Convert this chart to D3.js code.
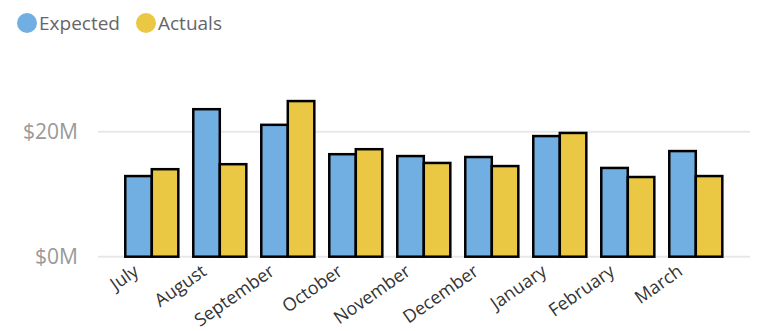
<!DOCTYPE html>
<html>
<head>
<meta charset="utf-8">
<script src="https://cdn.jsdelivr.net/npm/d3@7"></script>
<style>
  body { margin: 0; background: #fff; }
  text { font-family: "Open Sans", "Noto Sans", sans-serif; }
</style>
</head>
<body>
<div id="chart"></div>
<script>
const months = ['July', 'August', 'September', 'October', 'November', 'December', 'January', 'February', 'March'];
const expected = [12.9, 23.6, 21.1, 16.4, 16.1, 15.95, 19.3, 14.2, 16.9];
const actuals = [14.0, 14.8, 24.9, 17.2, 15.0, 14.5, 19.8, 12.75, 12.9];
const yTicks = [0, 20];
const seriesNames = ['Expected', 'Actuals'];
const colors = ['#71aee2', '#ebc844'];

const width = 757, height = 331;

const svg = d3.select('#chart')
  .append('svg')
  .attr('width', width)
  .attr('height', height);

// Scales
const x = d3.scaleBand()
  .domain(months)
  .range([117.8, 729.8])
  .paddingInner(0.22)
  .paddingOuter(0.11);

const xSub = d3.scaleBand()
  .domain(seriesNames)
  .range([0, x.bandwidth()]);

const y = d3.scaleLinear()
  .domain([0, 20])
  .range([256.7, 131.7]);

// Gridlines
svg.append('g')
  .selectAll('line')
  .data(yTicks)
  .join('line')
    .attr('x1', 98)
    .attr('x2', 750)
    .attr('y1', d => y(d))
    .attr('y2', d => y(d))
    .attr('stroke', '#e8e8e8')
    .attr('stroke-width', 2);

// Y axis labels
const yAxis = d3.axisLeft(y)
  .tickValues(yTicks)
  .tickFormat(d => `$${d}M`)
  .tickSize(0)
  .tickPadding(0);

svg.append('g')
  .attr('transform', 'translate(78,0)')
  .call(yAxis)
  .call(g => g.select('.domain').remove())
  .call(g => g.selectAll('text')
    .attr('fill', '#999')
    .attr('font-size', 21)
    .attr('font-family', '"Open Sans", sans-serif'));

// Bars
const data = months.map((m, i) => ({ month: m, values: [expected[i], actuals[i]] }));

const groups = svg.append('g')
  .selectAll('g')
  .data(data)
  .join('g')
    .attr('transform', d => `translate(${x(d.month)},0)`);

groups.selectAll('rect')
  .data(d => d.values.map((v, j) => ({ key: seriesNames[j], value: v, color: colors[j] })))
  .join('rect')
    .attr('x', d => xSub(d.key))
    .attr('width', xSub.bandwidth())
    .attr('y', d => y(d.value))
    .attr('height', d => y(0) - y(d.value))
    .attr('fill', d => d.color)
    .attr('stroke', '#000')
    .attr('stroke-width', 2.5);

// X axis labels
const xAxis = d3.axisBottom(x).tickSize(0).tickPadding(0);

svg.append('g')
  .attr('transform', 'translate(0,268)')
  .call(xAxis)
  .call(g => g.select('.domain').remove())
  .call(g => g.selectAll('text')
    .attr('fill', '#333')
    .attr('font-size', 18)
    .attr('font-family', '"Open Sans", sans-serif')
    .attr('text-anchor', 'end')
    .attr('y', 0)
    .attr('dy', 0)
    .attr('transform', 'translate(-12,6) rotate(-35)'));

// Legend
const legend = svg.append('g')
  .selectAll('g')
  .data(seriesNames)
  .join('g')
    .attr('transform', (d, i) => `translate(${[27, 146][i]},23)`);

legend.append('circle')
  .attr('r', 10)
  .attr('fill', (d, i) => colors[i]);

legend.append('text')
  .attr('x', 12)
  .attr('dy', '0.35em')
  .attr('fill', '#666')
  .attr('font-size', 19)
  .text(d => d);
</script>
</body>
</html>
